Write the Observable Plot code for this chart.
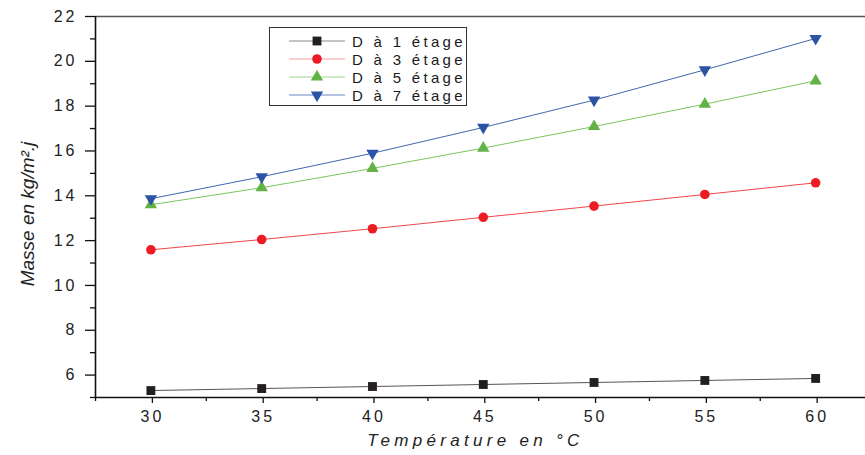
<!DOCTYPE html>
<html><head><meta charset="utf-8">
<script src="https://cdn.jsdelivr.net/npm/d3@7"></script>
<script src="https://cdn.jsdelivr.net/npm/@observablehq/plot@0.6"></script>
<style>
body{margin:0;background:#fff;}
#wrap{position:relative;width:865px;height:455px;}
#legend{position:absolute;left:269px;top:27px;width:198px;height:79px;border:1.3px solid #333;box-sizing:border-box;background:#fff;font:15px "Liberation Sans",Arial,sans-serif;letter-spacing:3.3px;color:#1a1a1a;padding-top:4px}
.row{display:flex;align-items:center;height:18px;white-space:nowrap}
.row svg{margin-left:18px;margin-right:6px;display:block}
.chart text{letter-spacing:3px}
</style></head><body><div id="wrap"><div id="legend"></div></div>
<script>
const temperatures = [30, 35, 40, 45, 50, 55, 60];
const seriesNames = ["D à 1 étage", "D à 3 étage", "D à 5 étage", "D à 7 étage"];
const d1 = [5.31, 5.40, 5.49, 5.58, 5.67, 5.76, 5.85];
const d3v = [11.59, 12.05, 12.53, 13.04, 13.54, 14.06, 14.58];
const d5 = [13.60, 14.36, 15.22, 16.13, 17.09, 18.09, 19.13];
const d7 = [13.87, 14.85, 15.90, 17.05, 18.27, 19.62, 21.02];
const yTicks = [6, 8, 10, 12, 14, 16, 18, 20, 22];
const yMinor = [5, 7, 9, 11, 13, 15, 17, 19, 21];
const xTicks = [30, 35, 40, 45, 50, 55, 60];
const xMinor = [27.5, 32.5, 37.5, 42.5, 47.5, 52.5, 57.5];

const values = [d1, d3v, d5, d7];
const lineColors = ["#555555", "#f0474b", "#7cc55e", "#4266ae"];
const legendLineColors = ["#8a8a8a", "#f5a0a0", "#9fd68a", "#6a86c4"];
const markColors = ["#231f20", "#ed1c24", "#62b246", "#2d54a4"];
const symbols = ["square", "circle", "triangle", "triangle"];
const rotations = [0, 0, 0, 180];
const radii = [5.0, 4.8, 4.6, 4.6];

const rows = [];
seriesNames.forEach((s, i) => values[i].forEach((v, j) => rows.push({serie: s, idx: i, t: temperatures[j], v})));

const marks = [
  Plot.ruleY([22], {stroke: "#555", strokeWidth: 1.5}),
  Plot.ruleY([5], {stroke: "#111", strokeWidth: 1.6}),
  Plot.ruleX([27.5], {stroke: "#111", strokeWidth: 1.6}),
  Plot.axisY(yTicks, {tickSize: 10, tickPadding: 8, label: null, fontSize: 16, stroke: "#111", strokeWidth: 1.3, fill: "#222"}),
  Plot.axisY(yMinor, {tickSize: 5, tickFormat: () => "", label: null, stroke: "#111", strokeWidth: 1.3}),
  Plot.axisX(xTicks, {tickSize: 6, tickPadding: 7, label: null, fontSize: 16, dx: 1.5, stroke: "#111", strokeWidth: 1.3, fill: "#222"}),
  Plot.axisX(xMinor, {tickSize: 4, tickFormat: () => "", label: null, stroke: "#111", strokeWidth: 1.3}),
  Plot.text(["Température en °C"], {frameAnchor: "bottom", dx: -5, dy: 43, lineAnchor: "middle", textAnchor: "middle", fontSize: 17, fontStyle: "italic", fill: "#222"}),
  Plot.text(["Masse en kg/m².j"], {frameAnchor: "left", dx: -68, dy: 7, rotate: -90, lineAnchor: "middle", textAnchor: "middle", fontSize: 19, fontStyle: "italic", fill: "#222"})
];
seriesNames.forEach((s, i) => {
  const data = rows.filter(r => r.idx === i);
  marks.push(Plot.line(data, {x: "t", y: "v", stroke: lineColors[i], strokeWidth: 1}));
});
seriesNames.forEach((s, i) => {
  const data = rows.filter(r => r.idx === i);
  marks.push(Plot.dot(data, {x: "t", y: "v", symbol: symbols[i], r: radii[i], fill: markColors[i], stroke: "none", rotate: rotations[i]}));
});

const chart = Plot.plot({
  width: 865, height: 455,
  marginLeft: 95, marginRight: 0, marginTop: 16, marginBottom: 58,
  className: "chart",
  x: {domain: [27.5, 62.25], axis: null},
  y: {domain: [5, 22], axis: null},
  style: {fontFamily: "'Liberation Sans', Arial, sans-serif", fontSize: "16px", background: "#fff", color: "#222"},
  marks
});
d3.select(chart).selectAll("text").each(function() {
  const t = this.textContent;
  if (t === "Température en °C") this.style.letterSpacing = "4.3px";
  if (t === "Masse en kg/m².j") this.style.letterSpacing = "0px";
});
document.getElementById("wrap").prepend(chart);

const leg = document.getElementById("legend");
seriesNames.forEach((s, i) => {
  const row = document.createElement("div");
  row.className = "row";
  const sym = d3.symbol(symbols[i] === "square" ? d3.symbolSquare : symbols[i] === "circle" ? d3.symbolCircle : d3.symbolTriangle, Math.PI * radii[i] * radii[i])();
  row.innerHTML = `<svg width="58" height="14"><line x1="1" x2="57" y1="7" y2="7" stroke="${legendLineColors[i]}" stroke-width="1.2"/><path d="${sym}" transform="translate(29,7) rotate(${rotations[i]})" fill="${markColors[i]}"/></svg><span>${s}</span>`;
  leg.appendChild(row);
});
</script></body></html>
